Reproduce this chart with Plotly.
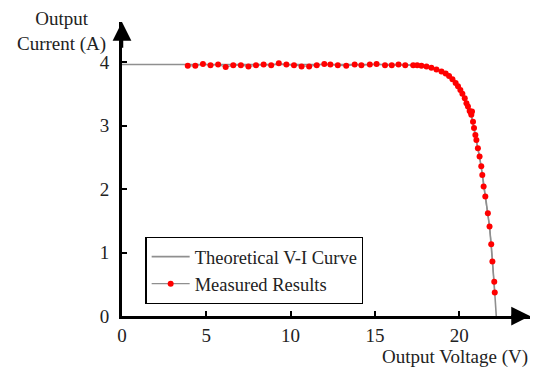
import plotly.graph_objects as go

# Theoretical V-I curve
theory_v = [0, 16.5, 17.3, 17.8, 18.3, 18.8, 19.2, 19.6, 20.0, 20.4, 20.7, 21.0, 21.3, 21.6, 21.8, 21.9, 22.0, 22.1, 22.2]
theory_i = [3.96, 3.96, 3.95, 3.94, 3.92, 3.87, 3.82, 3.73, 3.59, 3.37, 3.17, 2.78, 2.36, 1.80, 1.40, 1.10, 0.76, 0.40, 0.0]

meas_v = [3.9, 4.35, 4.8, 5.25, 5.7, 6.15, 6.6, 7.05, 7.5, 7.95, 8.4, 8.85, 9.3, 9.75,
          10.2, 10.65, 11.1, 11.55, 12.0, 12.36, 12.8, 13.3, 13.8, 14.2, 14.7, 15.1, 15.6,
          16.0, 16.4, 16.8, 17.27, 17.51, 17.76, 18.06, 18.35, 18.65, 18.95, 19.2, 19.4,
          19.6, 19.79, 19.93, 20.07, 20.19, 20.33, 20.43, 20.52, 20.62, 20.70, 20.76,
          20.72, 20.82, 20.88, 20.96, 21.02, 21.11, 21.21, 21.31, 21.37, 21.45, 21.55,
          21.70, 21.80, 21.90, 21.97, 22.08, 22.11]
meas_i = [3.94, 3.94, 3.97, 3.95, 3.96, 3.92, 3.95, 3.95, 3.93, 3.95, 3.96, 3.95, 3.98, 3.96,
          3.95, 3.93, 3.93, 3.95, 3.97, 3.96, 3.95, 3.94, 3.96, 3.95, 3.96, 3.97, 3.95,
          3.95, 3.96, 3.95, 3.95, 3.95, 3.94, 3.93, 3.91, 3.88, 3.85, 3.82, 3.78,
          3.73, 3.67, 3.62, 3.56, 3.50, 3.43, 3.35, 3.30, 3.23, 3.20, 3.22,
          3.17, 3.06, 2.96, 2.85, 2.77, 2.64, 2.51, 2.36, 2.22, 2.04, 1.88,
          1.62, 1.41, 1.13, 0.86, 0.54, 0.37]

x_ticks = [0, 5, 10, 15, 20]
y_ticks = [0, 1, 2, 3, 4]

FONT = "Liberation Serif"
GRAY = "#8f8f8f"
TXT = "#222222"

fig = go.Figure()
fig.add_trace(go.Scatter(x=theory_v, y=theory_i, mode="lines", name="Theoretical V-I Curve",
                         line=dict(color=GRAY, width=1.6, shape="spline", smoothing=0.6)))
fig.add_trace(go.Scatter(x=meas_v, y=meas_i, mode="lines+markers", name="Measured Results",
                         line=dict(color=GRAY, width=1.2),
                         marker=dict(color="#ff0000", size=6)))

# axis arrows
fig.add_annotation(x=24.2, y=0, ax=23.0, ay=0, xref="x", yref="y", axref="x", ayref="y",
                   text="", showarrow=True, arrowhead=2, arrowsize=1.5, arrowwidth=2.5,
                   arrowcolor="black", standoff=0)
fig.add_annotation(x=0, y=4.63, ax=0, ay=4.2, xref="x", yref="y", axref="x", ayref="y",
                   text="", showarrow=True, arrowhead=2, arrowsize=1.5, arrowwidth=2.5,
                   arrowcolor="black", standoff=0)

fig.add_annotation(text="Output Voltage (V)", xref="paper", yref="paper",
                   x=0.999, y=-0.139, xanchor="right", yanchor="middle", showarrow=False,
                   font=dict(family=FONT, size=19, color=TXT))
fig.add_annotation(text="Output<br>Current (A)", xref="paper", yref="paper",
                   x=-0.148, y=0.968, xanchor="center", yanchor="middle", showarrow=False,
                   font=dict(family=FONT, size=19, color=TXT))

# page body has an 8px offset, so the figure is 8px smaller than the window
fig.update_layout(
    width=531, height=359,
    margin=dict(l=113.5, r=8.5, t=14, b=51),
    paper_bgcolor="white", plot_bgcolor="white",
    font=dict(family=FONT, size=19, color=TXT),
    showlegend=True,
    legend=dict(x=0.0575, y=0.269, xanchor="left", yanchor="top",
                bordercolor="black", borderwidth=1.2, bgcolor="white",
                font=dict(family=FONT, size=18.5, color=TXT),
                itemwidth=38, tracegroupgap=0),
    xaxis=dict(range=[0, 24.2], showgrid=False, zeroline=False, showline=True,
               linecolor="black", linewidth=3, ticks="inside", ticklen=5, tickwidth=1.5,
               tickcolor="black", tickvals=x_ticks, ticklabelstandoff=0),
    yaxis=dict(range=[0, 4.63], showgrid=False, zeroline=False, showline=True,
               linecolor="black", linewidth=3, ticks="inside", ticklen=5, tickwidth=1.5,
               tickcolor="black", tickvals=y_ticks, ticklabelstandoff=6),
)

fig.write_html("out.html")
